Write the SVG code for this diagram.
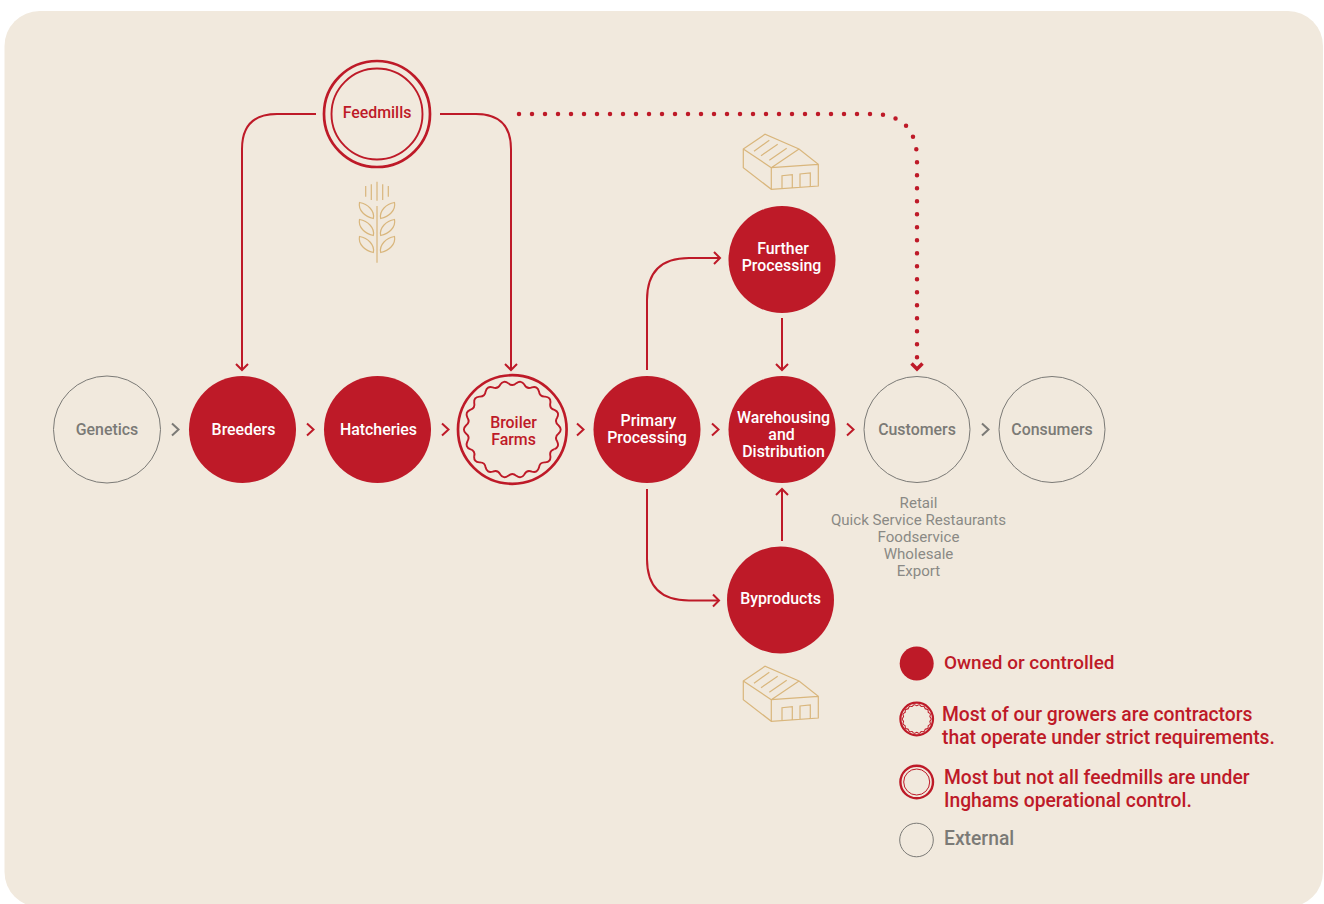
<svg xmlns="http://www.w3.org/2000/svg" xmlns:xlink="http://www.w3.org/1999/xlink" width="1324" height="904" viewBox="0 0 1324 904">
<style>
text{font-family:Roboto,"Liberation Sans",sans-serif;font-weight:500;text-anchor:middle}
.n{font-size:15.9px}
.w{fill:#fff}.r{fill:#be1a28}.g{fill:#7b7a76}
.own{fill:#be1a28}
.ext{fill:none;stroke:#7b7a76;stroke-width:1}
.ring{fill:none;stroke:#be1a28;stroke-width:2.7}
.ring2{fill:none;stroke:#be1a28;stroke-width:1.9}
.c{fill:none;stroke:#be1a28;stroke-width:2}
.ch{fill:none;stroke:#be1a28;stroke-width:2}
.chg{fill:none;stroke:#7b7a76;stroke-width:2}
.ic{fill:none;stroke:#d9b67c;stroke-width:1.2}
.sub{font-size:15.1px;font-weight:400;fill:#8a8985}
.lg{font-size:19.3px;text-anchor:start}
</style>
<defs>
<marker id="ah" markerUnits="userSpaceOnUse" markerWidth="16" markerHeight="16" refX="8" refY="8" orient="auto"><path d="M2 2L8 8L2 14" fill="none" stroke="#be1a28" stroke-width="2"/></marker>
<path id="chev" d="M0 0L6.500 6L0 12"/>
<g id="wave"><path id="w3" d="M-4.05 -46.32Q0 -42.5 4.05 -46.32Q8.77 -49.73 12.04 -44.92Q14.54 -39.94 19.65 -42.14Q25.25 -43.73 26.67 -38.09Q27.32 -32.56 32.88 -32.88Q38.68 -32.46 38.09 -26.67Q36.81 -21.25 42.14 -19.65Q47.45 -17.27 44.92 -12.04Q41.85 -7.38 46.32 -4.05Q50.5 0 46.32 4.05Q41.85 7.38 44.92 12.04Q47.45 17.27 42.14 19.65"/><use xlink:href="#w3" href="#w3" transform="rotate(120)"/><use xlink:href="#w3" href="#w3" transform="rotate(240)"/></g>
<g id="shed" class="ic"><path d="M743.3 149L765 134.3L799 149L818.3 164.3V186L771.3 189.3L743.3 167.7ZM743.3 149L771.3 167.7L799 149M771.3 167.7L818.3 164.3M771.3 167.7V189.3M782 188V175.7L792.3 174.7V188M800 187V174L810.3 173V187M754 151.3L769.3 140.3M761 155.7L777.7 144.3M769.3 160.3L786.7 148.3"/></g>
<path id="leaf" d="M359.5 202.5C368 204 375 211 373.3 218.5C365 217 358 210 359.5 202.5Z"/>
</defs>
<rect x="4.500" y="11" width="1318.500" height="896" rx="35" fill="#f1e9dd"/>
<g id="icons">
<use xlink:href="#shed" href="#shed"/>
<use xlink:href="#shed" href="#shed" y="532"/>
<g id="wheat" class="ic"><path d="M365.7 186V196.7M371.3 184.3V200M377 181.7V200.7M382.7 184.3V200M388.3 186V196.7M377 206V262.7"/>
<use xlink:href="#leaf" href="#leaf"/><use xlink:href="#leaf" href="#leaf" y="17"/><use xlink:href="#leaf" href="#leaf" y="34"/>
<g transform="matrix(-1 0 0 1 754 0)"><use xlink:href="#leaf" href="#leaf"/><use xlink:href="#leaf" href="#leaf" y="17"/><use xlink:href="#leaf" href="#leaf" y="34"/></g></g>
</g>
<g id="connectors">
<path class="c" d="M316 114H277Q242 114 242 149V370" marker-end="url(#ah)"/>
<path class="c" d="M440 114H476Q511 114 511 149V370" marker-end="url(#ah)"/>
<path class="c" d="M647 370V300Q647 258 689 258H720" marker-end="url(#ah)"/>
<path class="c" d="M647 489V559Q647 600.500 689 600.500H719" marker-end="url(#ah)"/>
<path class="c" d="M782 318V370" marker-end="url(#ah)"/>
<path class="c" d="M782 541V489" marker-end="url(#ah)"/>
<path d="M519 114H872Q917 114 917 160V358" fill="none" stroke="#be1a28" stroke-width="4.500" stroke-linecap="round" stroke-dasharray="0 13"/>
<path d="M911.500 363.500L917 369L922.500 363.500" fill="none" stroke="#be1a28" stroke-width="3.500"/>
<use xlink:href="#chev" href="#chev" class="chg" x="172" y="423.500"/>
<use xlink:href="#chev" href="#chev" class="ch" x="307" y="423.500"/>
<use xlink:href="#chev" href="#chev" class="ch" x="442" y="423.500"/>
<use xlink:href="#chev" href="#chev" class="ch" x="577" y="423.500"/>
<use xlink:href="#chev" href="#chev" class="ch" x="712" y="423.500"/>
<use xlink:href="#chev" href="#chev" class="ch" x="847" y="423.500"/>
<use xlink:href="#chev" href="#chev" class="chg" x="982" y="423.500"/>
</g>
<g id="feedmills"><circle class="ring" cx="377" cy="114" r="53"/><circle class="ring2" cx="377" cy="114" r="45.500"/><text class="n r" x="377" y="118.400">Feedmills</text></g>
<g id="genetics"><circle class="ext" cx="107" cy="429.500" r="53.500"/><text class="n g" x="107" y="435.400">Genetics</text></g>
<g id="breeders"><circle class="own" cx="242.500" cy="429.500" r="53.500"/><text class="n w" x="243.500" y="435.400">Breeders</text></g>
<g id="hatcheries"><circle class="own" cx="377.500" cy="429.500" r="53.500"/><text class="n w" x="378.500" y="435.400">Hatcheries</text></g>
<g id="broiler"><circle class="ring" cx="512.300" cy="429.500" r="54.300"/><use xlink:href="#wave" href="#wave" class="ring2" transform="translate(512.300 429.500)"/><text class="n r" x="513.500" y="428.400">Broiler</text><text class="n r" x="513.500" y="445.400">Farms</text></g>
<g id="primary"><circle class="own" cx="647" cy="429.500" r="53.500"/><text class="n w" x="648.400" y="426.400">Primary</text><text class="n w" x="647" y="443.400">Processing</text></g>
<g id="further"><circle class="own" cx="782" cy="259.500" r="53.500"/><text class="n w" x="783" y="254.400">Further</text><text class="n w" x="781.500" y="271.400">Processing</text></g>
<g id="warehousing"><circle class="own" cx="782" cy="429.500" r="53.500"/><text class="n w" x="783.500" y="423.400">Warehousing</text><text class="n w" x="781.500" y="440.400">and</text><text class="n w" x="783.500" y="457.400">Distribution</text></g>
<g id="byproducts"><circle class="own" cx="780.500" cy="600" r="53.500"/><text class="n w" x="780.500" y="604.400">Byproducts</text></g>
<g id="customers"><circle class="ext" cx="917" cy="429.500" r="53"/><text class="n g" x="917" y="435.400">Customers</text></g>
<g id="consumers"><circle class="ext" cx="1052" cy="429.500" r="53"/><text class="n g" x="1052" y="435.400">Consumers</text></g>
<g id="channels"><text class="sub" x="918.500" y="508">Retail</text><text class="sub" x="918.500" y="525">Quick Service Restaurants</text><text class="sub" x="918.500" y="542">Foodservice</text><text class="sub" x="918.500" y="559">Wholesale</text><text class="sub" x="918.500" y="576">Export</text></g>
<g id="legend">
<circle class="own" cx="916.700" cy="663.500" r="17"/><text class="lg r" x="944" y="669.400" style="font-size:18.950px">Owned or controlled</text>
<circle cx="916.700" cy="719" r="16.300" fill="none" stroke="#be1a28" stroke-width="2.200"/><g transform="translate(916.700 719) scale(.3)"><use xlink:href="#wave" href="#wave" fill="none" stroke="#be1a28" stroke-width="3.500"/></g>
<text class="lg r" x="942" y="721.400">Most of our growers are contractors</text><text class="lg r" x="942" y="744.400">that operate under strict requirements.</text>
<circle cx="916.700" cy="782" r="16.300" fill="none" stroke="#be1a28" stroke-width="2.400"/><circle cx="916.700" cy="782" r="13" fill="none" stroke="#be1a28" stroke-width="1"/>
<text class="lg r" x="944" y="784.400">Most but not all feedmills are under</text><text class="lg r" x="944" y="807.400">Inghams operational control.</text>
<circle class="ext" cx="916.500" cy="840" r="16.800"/><text class="lg g" x="944" y="845.400">External</text>
</g>
</svg>
